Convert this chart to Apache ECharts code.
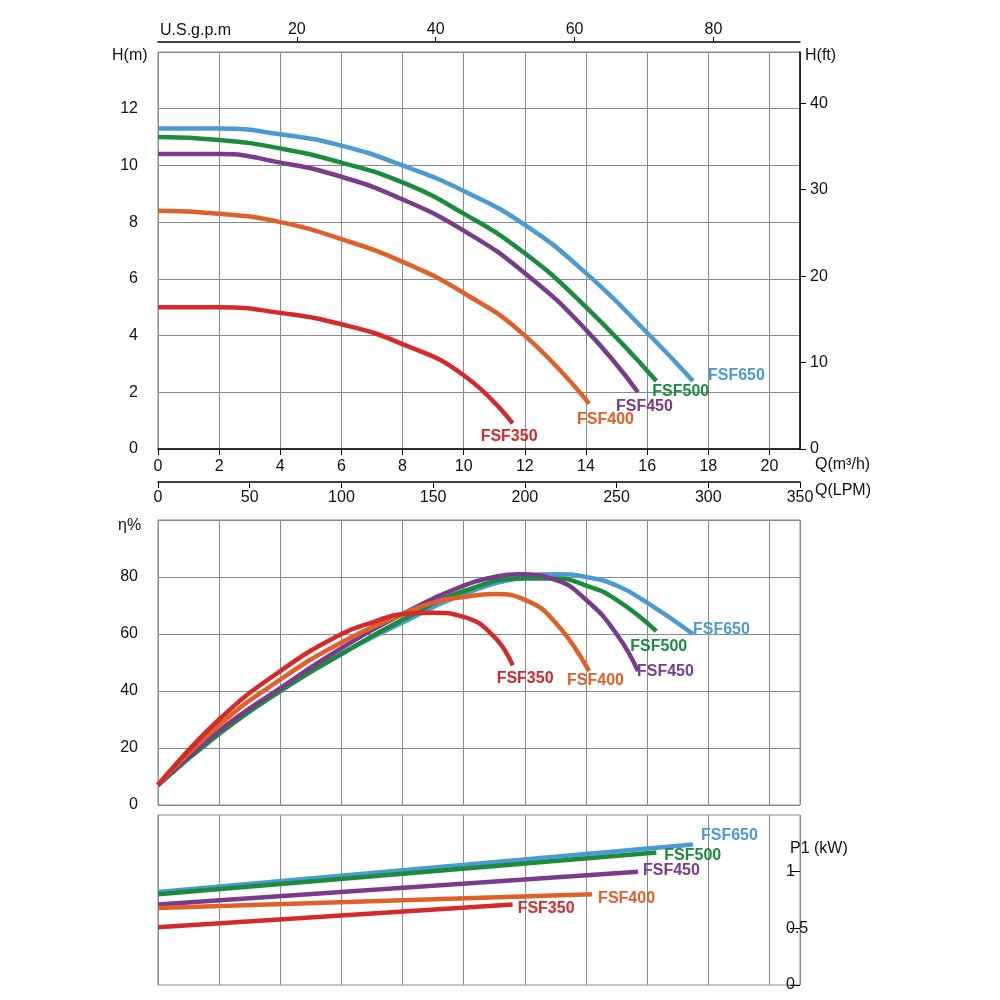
<!DOCTYPE html>
<html>
<head>
<meta charset="utf-8">
<script src="https://cdn.jsdelivr.net/npm/echarts@6/dist/echarts.min.js"></script>
<style>html,body{margin:0;padding:0;background:#fff}#chart{width:1000px;height:1000px}</style>
</head>
<body>
<div id="chart"></div>
<script>
let chart = echarts.init(document.getElementById('chart'));

const names = ['FSF650', 'FSF500', 'FSF450', 'FSF400', 'FSF350'];
const colors = ['#4a9ad4', '#1a8c3c', '#7a3b8c', '#e0602a', '#d42a2a'];

// head H(m) vs Q(m3/h)
const head650 = [[0,11.3],[2,11.3],[4,11.1],[6,10.7],[8,10.0],[10,9.1],[12,7.9],[14,6.2],[16,4.1],[17.5,2.4]];
const head500 = [[0,11.0],[2,10.9],[4,10.6],[6,10.1],[8,9.4],[10,8.3],[12,6.9],[14,5.0],[16.3,2.4]];
const head450 = [[0,10.4],[2,10.4],[4,10.1],[6,9.6],[8,8.8],[10,7.7],[12,6.2],[14,4.2],[15.7,2.0]];
const head400 = [[0,8.4],[2,8.3],[4,8.0],[6,7.4],[8,6.6],[10,5.5],[12,4.0],[14.1,1.6]];
const head350 = [[0,5.0],[2,5.0],[4,4.8],[6,4.4],[8,3.7],[10,2.6],[11.6,0.9]];

// efficiency %
const eff650 = [[0,7],[2,25],[4,40],[6,53],[8,64],[10,74],[12,80],[13,81],[14,80],[15,77],[16,71],[17.5,60]];
const eff500 = [[0,7],[2,25],[4,40],[6,53],[8,65],[10,75],[12,79.5],[13,79.5],[14,77],[15,72],[16.3,61]];
const eff450 = [[0,7],[2,26],[4,41],[6,55],[8,67],[10,77],[11,80],[11.8,81],[13,79],[14,72],[15,60],[15.7,47]];
const eff400 = [[0,7],[2,28],[4,44],[6,57],[8,67],[9,71],[10,73],[11,74],[12,72],[13,64],[14.1,47]];
const eff350 = [[0,7],[2,30],[4,47],[6,60],[7,64],[8,67],[9,67.5],[10,66],[11,59],[11.6,49]];

// power P1 (kW)
const pow650 = [[0,0.82],[17.5,1.24]];
const pow500 = [[0,0.80],[16.3,1.17]];
const pow450 = [[0,0.71],[15.7,1.0]];
const pow400 = [[0,0.68],[14.2,0.80]];
const pow350 = [[0,0.51],[11.6,0.71]];

const headData = [head650, head500, head450, head400, head350];
const effData = [eff650, eff500, eff450, eff400, eff350];
const powData = [pow650, pow500, pow450, pow400, pow350];

const headOffsets = [[7,-5],[-12,11],[-30,14],[-20,16],[-40,13]];
const effOffsets = [[-8,-4],[-34,15],[-9,1],[-30,10],[-24,13]];
const powOffsets = [[0,-9],[0,3],[-3,-1],[-2,4],[-3,4]];

const font = 'Liberation Sans';
const gridLine = {show: true, lineStyle: {color: '#8a8a8a', width: 1}};
const lbl = {color: '#111', fontSize: 16, fontFamily: font};

function qAxis(gridIndex, showLabels) {
    return {
        type: 'value', gridIndex: gridIndex, min: 0, max: 21, interval: 2,
        axisLine: {show: showLabels, onZero: false, lineStyle: {color: '#000', width: 1.5}},
        axisTick: {show: showLabels, length: 6, lineStyle: {color: '#000'}},
        axisLabel: Object.assign({show: showLabels, showMaxLabel: false, margin: 10}, lbl),
        splitLine: gridLine
    };
}

function makeSeries(dataList, xi, yi, offsets, smooth) {
    return dataList.map((d, i) => ({
        type: 'line', name: names[i], xAxisIndex: xi, yAxisIndex: yi,
        data: d, smooth: smooth, showSymbol: false, silent: true,
        lineStyle: {color: colors[i], width: 4.5},
        endLabel: {
            show: true, formatter: names[i], color: colors[i], fontWeight: 'bold',
            fontSize: 16, fontFamily: font, offset: offsets[i]
        }
    }));
}

let options = {
    backgroundColor: '#fff',
    animation: false,
    grid: [
        {left: 158, right: 200, top: 52, height: 397, show: true, borderColor: '#8a8a8a'},
        {left: 158, right: 200, top: 520, height: 285, show: true, borderColor: '#8a8a8a'},
        {left: 158, right: 200, top: 815, height: 170, show: true, borderColor: '#8a8a8a'}
    ],
    xAxis: [
        qAxis(0, true),
        {
            type: 'value', gridIndex: 0, position: 'bottom', offset: 33, min: 0, max: 350, interval: 50,
            axisLine: {onZero: false, lineStyle: {color: '#000', width: 1.5}},
            axisTick: {length: 6, lineStyle: {color: '#000'}},
            axisLabel: Object.assign({margin: 8}, lbl),
            splitLine: {show: false}
        },
        {
            type: 'value', gridIndex: 0, position: 'top', offset: 10, min: 0, max: 21 / 0.2271, interval: 20,
            axisLine: {onZero: false, lineStyle: {color: '#000', width: 1.5}},
            axisTick: {length: 5, lineStyle: {color: '#000'}},
            axisLabel: Object.assign({showMinLabel: false, showMaxLabel: false, margin: 4}, lbl),
            splitLine: {show: false}
        },
        qAxis(1, false),
        qAxis(2, false)
    ],
    yAxis: [
        {
            type: 'value', gridIndex: 0, min: 0, max: 14, interval: 2,
            axisLine: {show: false, onZero: false}, axisTick: {show: false},
            axisLabel: Object.assign({showMaxLabel: false, margin: 20}, lbl),
            splitLine: gridLine
        },
        {
            type: 'value', gridIndex: 0, position: 'right', min: 0, max: 14 / 0.3048, interval: 10,
            axisLine: {show: true, onZero: false, lineStyle: {color: '#000', width: 1.5}},
            axisTick: {show: true, length: 6, lineStyle: {color: '#000'}},
            axisLabel: Object.assign({showMaxLabel: false, margin: 10}, lbl),
            splitLine: {show: false}
        },
        {
            type: 'value', gridIndex: 1, min: 0, max: 100, interval: 20,
            axisLine: {show: false, onZero: false}, axisTick: {show: false},
            axisLabel: Object.assign({showMaxLabel: false, margin: 20}, lbl),
            splitLine: gridLine
        },
        {
            type: 'value', gridIndex: 2, position: 'right', min: 0, max: 1.5, interval: 0.5,
            axisLine: {show: false, onZero: false},
            axisTick: {show: true, inside: true, length: 10, lineStyle: {color: '#000'}},
            axisLabel: Object.assign({showMaxLabel: false, margin: -14, align: 'left'}, lbl),
            splitLine: {show: false}
        }
    ],
    graphic: [
        {type: 'text', left: 112, top: 48, style: {text: 'H(m)', fill: '#111', font: '16px "Liberation Sans"'}},
        {type: 'text', left: 805, top: 48, style: {text: 'H(ft)', fill: '#111', font: '16px "Liberation Sans"'}},
        {type: 'text', left: 160, top: 23, style: {text: 'U.S.g.p.m', fill: '#111', font: '16px "Liberation Sans"'}},
        {type: 'text', left: 815, top: 457, style: {text: 'Q(m³/h)', fill: '#111', font: '16px "Liberation Sans"'}},
        {type: 'text', left: 815, top: 483, style: {text: 'Q(LPM)', fill: '#111', font: '16px "Liberation Sans"'}},
        {type: 'text', left: 118, top: 518, style: {text: 'η%', fill: '#111', font: '16px "Liberation Sans"'}},
        {type: 'text', left: 790, top: 841, style: {text: 'P1 (kW)', fill: '#111', font: '16px "Liberation Sans"'}}
    ],
    series: [].concat(
        makeSeries(headData, 0, 0, headOffsets, true),
        makeSeries(effData, 3, 2, effOffsets, true),
        makeSeries(powData, 4, 3, powOffsets, false)
    )
};
chart.setOption(options);
</script>
</body>
</html>
